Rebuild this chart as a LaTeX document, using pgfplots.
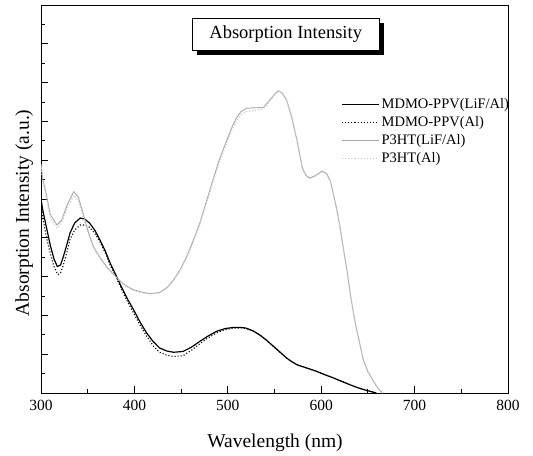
\documentclass[border=0pt]{standalone}
\usepackage{fontspec}
\setmainfont{Liberation Serif}
\usepackage{pgfplots}
\pgfplotsset{compat=1.18}
\usetikzlibrary{shadows}
\definecolor{pgray}{RGB}{170,170,170}
\definecolor{plgray}{RGB}{200,200,200}
\begin{document}
\begin{tikzpicture}
\begin{axis}[
  scale only axis, width=467bp, height=388bp,
  xmin=300, xmax=800, ymin=0, ymax=10,
  xtick={300,400,...,800}, minor x tick num=1,
  ytick={0,1,...,10}, minor y tick num=1, yticklabels={},
  tick pos=left, tick align=inside,
  major tick length=7bp, minor tick length=4bp,
  axis line style={line width=0.9pt}, every tick/.style={line width=0.9pt, black},
  /pgf/number format/assume math mode=true,
  tick label style={font=\fontsize{15.5bp}{18bp}\selectfont},
  xticklabel style={yshift=-4bp},
  xlabel={Wavelength (nm)}, ylabel={Absorption Intensity (a.u.)},
  label style={font=\fontsize{19.5bp}{22bp}\selectfont},
  xlabel style={at={(axis description cs:0.501,-0.129)}, anchor=center},
  ylabel style={at={(axis description cs:-0.036,0.464)}, anchor=center},
  legend style={draw=none, fill=none, at={(axis description cs:0.643,0.765)}, anchor=north west,
    font=\fontsize{14.5bp}{16bp}\selectfont, row sep=2.5bp, inner sep=0pt},
  legend cell align=left,
  legend image code/.code={\draw[#1] (0bp,0bp) -- (37bp,0bp);},
]
\coordinate (O) at (rel axis cs:0,0);
\addplot[black, line width=1.2pt] coordinates {
(300,5.0) (302,4.7) (306,4.25) (310,3.8) (314,3.45) (317.5,3.26) (321,3.3) (324,3.52) (328,3.85) (331,4.12) (336,4.38) (342,4.51) (347,4.48) (352,4.38) (358,4.18) (363,3.95) (369,3.65) (374,3.35) (380,3.05) (385,2.79) (392,2.45) (399,2.15) (406,1.83) (413,1.55) (420,1.33) (427,1.16) (435,1.08) (442,1.05) (452,1.07) (461,1.18) (470,1.33) (479,1.47) (488,1.59) (497,1.66) (506,1.69) (514,1.69) (520,1.67) (527,1.6) (534,1.50) (541,1.37) (549,1.20) (556,1.05) (563,0.90) (569,0.8) (574,0.73) (585,0.64) (595,0.56) (604,0.47) (613,0.39) (622,0.30) (631,0.21) (640,0.13) (648,0.07) (659,0)
};
\addlegendentry{MDMO-PPV(LiF/Al)}
\addplot[black, line width=1.1pt, dotted] coordinates {
(300,4.9) (302,4.5) (306,4.0) (310,3.6) (314,3.25) (318,3.05) (321,3.1) (324,3.3) (328,3.65) (331,3.95) (336,4.2) (342,4.33) (347,4.33) (352,4.27) (358,4.1) (363,3.9) (369,3.6) (374,3.3) (380,3.0) (385,2.74) (392,2.38) (399,2.07) (406,1.75) (413,1.47) (420,1.22) (427,1.05) (435,0.97) (442,0.94) (452,0.96) (461,1.1) (470,1.27) (479,1.42) (488,1.55) (497,1.63) (506,1.67) (514,1.68) (520,1.66) (527,1.6) (534,1.50) (541,1.37) (549,1.20) (556,1.05) (563,0.90) (569,0.8) (574,0.73) (585,0.64) (595,0.56) (604,0.47) (613,0.39) (622,0.30) (631,0.21) (640,0.13) (648,0.07) (659,0)
};
\addlegendentry{MDMO-PPV(Al)}
\addplot[pgray, line width=0.9pt] coordinates {
(300,5.9) (302,5.5) (305,5.2) (310,4.6) (317,4.33) (322,4.45) (328,4.85) (335,5.19) (340,5.05) (345,4.64) (350,4.2) (356,3.78) (363,3.5) (370,3.26) (378,3.05) (385,2.88) (392,2.75) (399,2.66) (408,2.6) (417,2.56) (427,2.59) (435,2.72) (442,2.92) (449,3.18) (456,3.52) (463,3.93) (470,4.38) (477,4.93) (484,5.49) (491,6.02) (499,6.52) (505,6.88) (509,7.08) (514,7.25) (520,7.34) (528,7.35) (538,7.36) (545,7.55) (550,7.7) (554,7.79) (558,7.74) (563,7.55) (568,7.15) (574,6.52) (580,5.79) (584,5.6) (588,5.54) (595,5.62) (601,5.72) (606,5.65) (610,5.45) (616,4.81) (620,4.3) (624,3.69) (628,3.1) (631,2.58) (635,2.0) (638,1.63) (642,1.2) (645,0.86) (650,0.55) (656,0.30) (661,0.12) (666,0)
};
\addlegendentry{P3HT(LiF/Al)}
\addplot[plgray, line width=1.1pt, dotted] coordinates {
(300,5.8) (302,5.45) (305,5.1) (310,4.5) (317,4.25) (322,4.38) (328,4.75) (335,5.1) (340,4.95) (345,4.55) (350,4.15) (356,3.75) (363,3.47) (370,3.24) (378,3.03) (385,2.86) (392,2.73) (399,2.64) (408,2.58) (417,2.55) (427,2.58) (435,2.7) (442,2.9) (449,3.15) (456,3.48) (463,3.88) (470,4.33) (477,4.87) (484,5.42) (491,5.95) (499,6.44) (505,6.8) (509,7.0) (514,7.17) (520,7.26) (528,7.28) (538,7.32) (545,7.52) (550,7.68) (554,7.77) (558,7.73) (563,7.54) (568,7.14) (574,6.5) (580,5.77) (584,5.58) (588,5.52) (595,5.6) (601,5.7) (606,5.63) (610,5.43) (616,4.79) (620,4.28) (624,3.67) (628,3.08) (631,2.56) (635,1.98) (638,1.61) (642,1.18) (645,0.85) (650,0.54) (656,0.29) (661,0.11) (666,0)
};
\addlegendentry{P3HT(Al)}
\node[draw=black, line width=0.6pt, fill=white, minimum width=187bp, minimum height=32bp,
  font=\fontsize{18.5bp}{20bp}\selectfont,
  drop shadow={opacity=1, fill=black, shadow xshift=5bp, shadow yshift=-5bp}]
  at (axis cs:562,9.25) {Absorption Intensity};
\end{axis}
\path (O) ++(-41bp,-61bp) rectangle ++(533bp,454bp);
\end{tikzpicture}
\end{document}
